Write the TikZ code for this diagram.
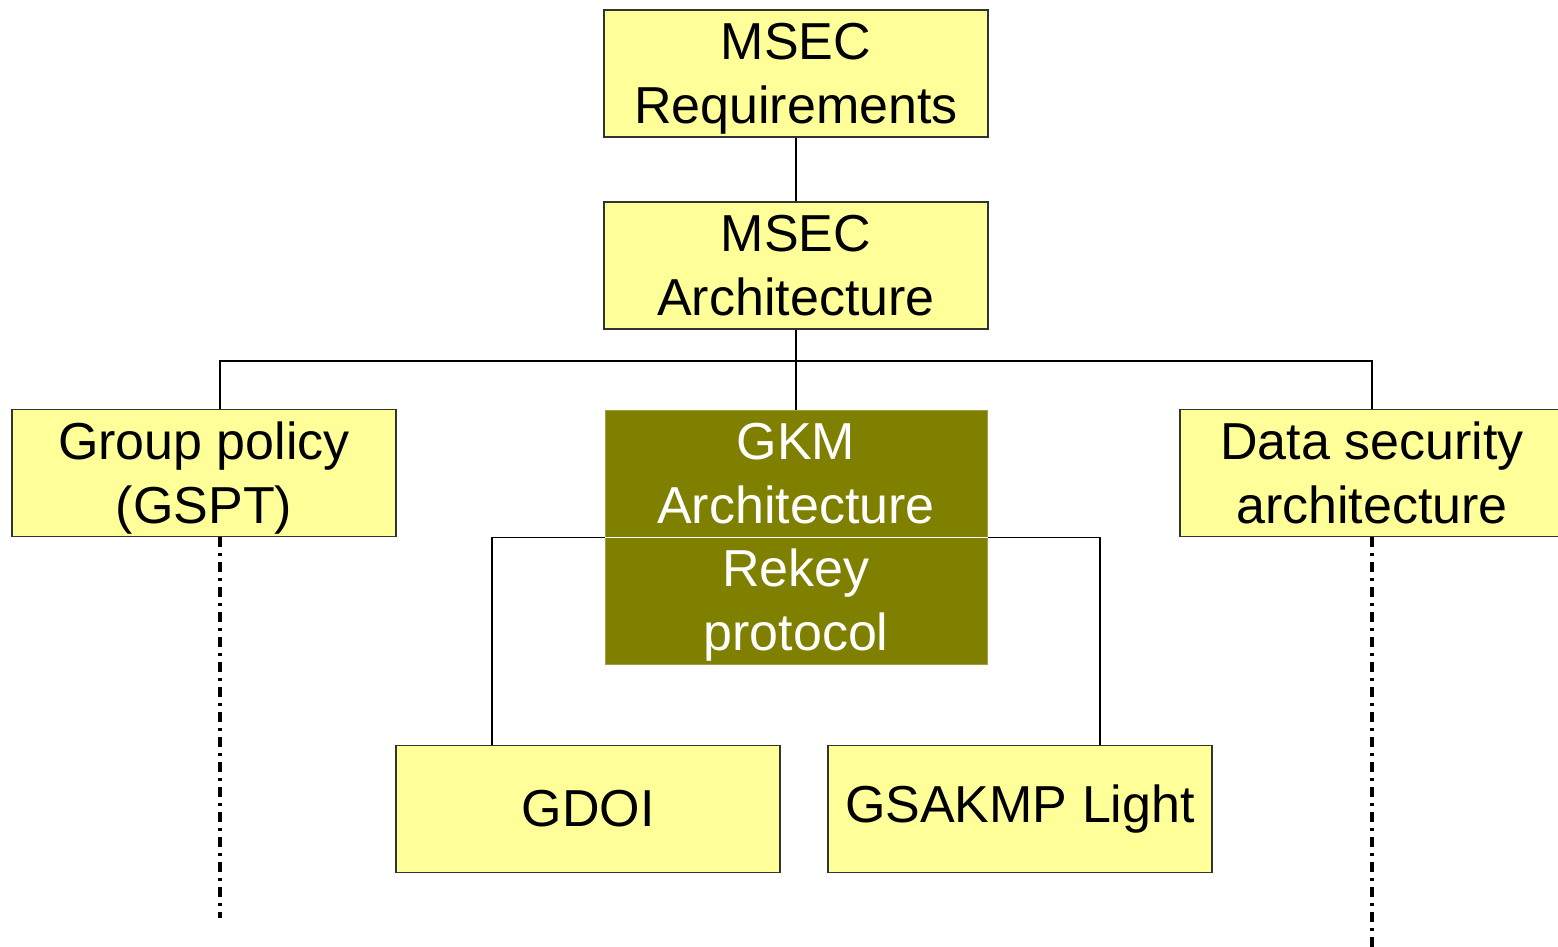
\documentclass[tikz,border=0pt]{standalone}
\usepackage{fontspec}
\setmainfont{Liberation Sans}
\definecolor{boxyellow}{HTML}{FFFF99}
\definecolor{gkmolive}{HTML}{808000}
\definecolor{gkmedge}{HTML}{A0A040}
\newcommand{\twolines}[2]{\raisebox{-23pt}{\smash{\begin{tabular}[c]{@{}c@{}}#1\\#2\end{tabular}}}}
\begin{document}
\begin{tikzpicture}[x=1pt,y=-1pt,
  ybox/.style={draw=black!80, line width=1.5pt, fill=boxyellow, rectangle,
    minimum width=384pt, minimum height=127pt, inner sep=0pt, align=center,
    font=\fontsize{52}{64}\selectfont},
  gbox/.style={draw=gkmedge, line width=1pt, fill=gkmolive, rectangle, text=white,
    minimum width=382pt, minimum height=127pt, inner sep=0pt, align=center,
    font=\fontsize{52}{64}\selectfont},
  conn/.style={line width=1.5pt, black},
  dashdotline/.style={line width=3.4pt, black, dash pattern=on 10pt off 6pt on 3pt off 6pt}]
\useasboundingbox (0,0) rectangle (1558,947);
\node[ybox] (req) at (796,73.5) {\twolines{MSEC}{Requirements}};
\node[ybox] (arch) at (796,265.5) {\twolines{MSEC}{Architecture}};
\node[ybox] (gp) at (204,473) {\twolines{Group policy}{(GSPT)}};
\node[gbox] (gkm) at (796,473.5) {\twolines{GKM}{Architecture}};
\node[gbox] (rekey) at (796,600.5) {\twolines{Rekey}{protocol}};
\draw[white, line width=1.5pt] (gkm.south west) -- (gkm.south east);
\node[ybox] (ds) at (1372,473) {\twolines{Data security}{architecture}};
\node[ybox] (gdoi) at (588,809) {GDOI};
\node[ybox] (gsakmp) at (1020,809) {GSAKMP Light};
\coordinate (bus) at (796,361);
\coordinate (gpend) at (220,918);
\coordinate (dsend) at (1372,947);
\draw[conn] (req.south) -- (arch.north);
\draw[conn] (arch.south) -- (bus);
\draw[conn] (bus) -- (gkm.north);
\draw[conn] (bus) -| (gp.north -| 220,0);
\draw[conn] (bus) -| (ds.north);
\draw[conn] (gkm.south west) -| (gdoi.north -| 492,0);
\draw[conn] (gkm.south east) -| (gsakmp.north -| 1100,0);
\draw[dashdotline] (gp.south -| gpend) -- (gpend);
\draw[dashdotline] (ds.south) -- (dsend);
\end{tikzpicture}
\end{document}
